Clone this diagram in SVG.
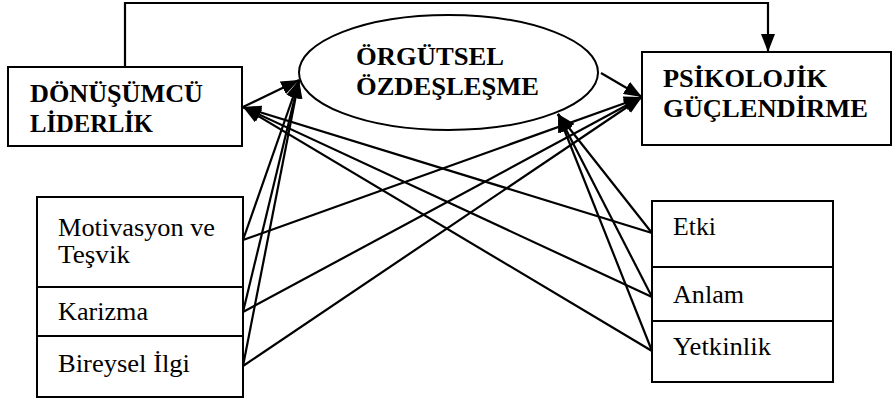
<svg xmlns="http://www.w3.org/2000/svg" width="893" height="399" viewBox="0 0 893 399">
  <style>
    .box { fill: #ffffff; stroke: #000000; stroke-width: 2; }
    .link { fill: none; stroke: #000000; stroke-width: 2.2; marker-end: url(#head); }
    .bold { font-family: "Liberation Serif", "Times New Roman", serif; font-weight: bold; font-size: 26px; fill: #000000; }
    .plain { font-family: "Liberation Serif", "Times New Roman", serif; font-size: 25px; fill: #000000; }
  </style>
  <defs>
    <marker id="head" viewBox="0 0 18 14" refX="18" refY="7" markerWidth="18" markerHeight="14" markerUnits="userSpaceOnUse" orient="auto">
      <path d="M0,0 L18,7 L0,14 z" fill="#000000"/>
    </marker>
  </defs>
  <rect width="893" height="399" fill="#ffffff"/>

  <!-- main constructs -->
  <g id="donusumcu-liderlik">
    <rect class="box" x="8" y="67" width="234" height="79"/>
    <text class="bold" x="30" y="102" textLength="173" lengthAdjust="spacingAndGlyphs">DÖNÜŞÜMCÜ</text>
    <text class="bold" x="30" y="132" textLength="123" lengthAdjust="spacingAndGlyphs">LİDERLİK</text>
  </g>

  <g id="orgutsel-ozdeslesme">
    <ellipse class="box" cx="448.5" cy="72.5" rx="149.5" ry="57.5"/>
    <text class="bold" x="356" y="65" textLength="148" lengthAdjust="spacingAndGlyphs">ÖRGÜTSEL</text>
    <text class="bold" x="356" y="95" textLength="183" lengthAdjust="spacingAndGlyphs">ÖZDEŞLEŞME</text>
  </g>

  <g id="psikolojik-guclendirme">
    <rect class="box" x="642" y="52" width="249" height="93"/>
    <text class="bold" x="663" y="87" textLength="164" lengthAdjust="spacingAndGlyphs">PSİKOLOJİK</text>
    <text class="bold" x="663" y="117" textLength="205" lengthAdjust="spacingAndGlyphs">GÜÇLENDİRME</text>
  </g>

  <!-- leadership dimensions -->
  <g id="motivasyon-tesvik">
    <rect class="box" x="37" y="197" width="206" height="90"/>
    <text class="plain" x="58" y="236" textLength="157" lengthAdjust="spacingAndGlyphs">Motivasyon ve</text>
    <text class="plain" x="58" y="263" textLength="72" lengthAdjust="spacingAndGlyphs">Teşvik</text>
  </g>
  <g id="karizma">
    <rect class="box" x="37" y="287" width="206" height="49"/>
    <text class="plain" x="58" y="320" textLength="90" lengthAdjust="spacingAndGlyphs">Karizma</text>
  </g>
  <g id="bireysel-ilgi">
    <rect class="box" x="37" y="336" width="206" height="61"/>
    <text class="plain" x="58" y="372" textLength="132" lengthAdjust="spacingAndGlyphs">Bireysel İlgi</text>
  </g>

  <!-- empowerment dimensions -->
  <g id="etki">
    <rect class="box" x="652" y="201" width="181" height="66"/>
    <text class="plain" x="673" y="235" textLength="43" lengthAdjust="spacingAndGlyphs">Etki</text>
  </g>
  <g id="anlam">
    <rect class="box" x="652" y="267" width="181" height="54"/>
    <text class="plain" x="673" y="303" textLength="71" lengthAdjust="spacingAndGlyphs">Anlam</text>
  </g>
  <g id="yetkinlik">
    <rect class="box" x="652" y="321" width="181" height="61"/>
    <text class="plain" x="673" y="355" textLength="98" lengthAdjust="spacingAndGlyphs">Yetkinlik</text>
  </g>

  <!-- connectors -->
  <g id="connectors">
    <path class="link" d="M125,67 V3 H768 V52"/>
    <line class="link" x1="243" y1="107" x2="299" y2="80"/>
    <line class="link" x1="601" y1="73" x2="642" y2="97"/>

    <line class="link" x1="243" y1="240" x2="299" y2="80"/>
    <line class="link" x1="243" y1="312" x2="299" y2="80"/>
    <line class="link" x1="243" y1="366" x2="299" y2="80"/>
    <line class="link" x1="243" y1="240" x2="642" y2="97"/>
    <line class="link" x1="243" y1="312" x2="642" y2="97"/>
    <line class="link" x1="243" y1="366" x2="642" y2="97"/>

    <line class="link" x1="652" y1="233" x2="558" y2="114"/>
    <line class="link" x1="652" y1="297" x2="558" y2="114"/>
    <line class="link" x1="652" y1="351" x2="558" y2="114"/>
    <line class="link" x1="652" y1="233" x2="243" y2="107"/>
    <line class="link" x1="652" y1="297" x2="243" y2="107"/>
    <line class="link" x1="652" y1="351" x2="243" y2="107"/>
  </g>
</svg>
